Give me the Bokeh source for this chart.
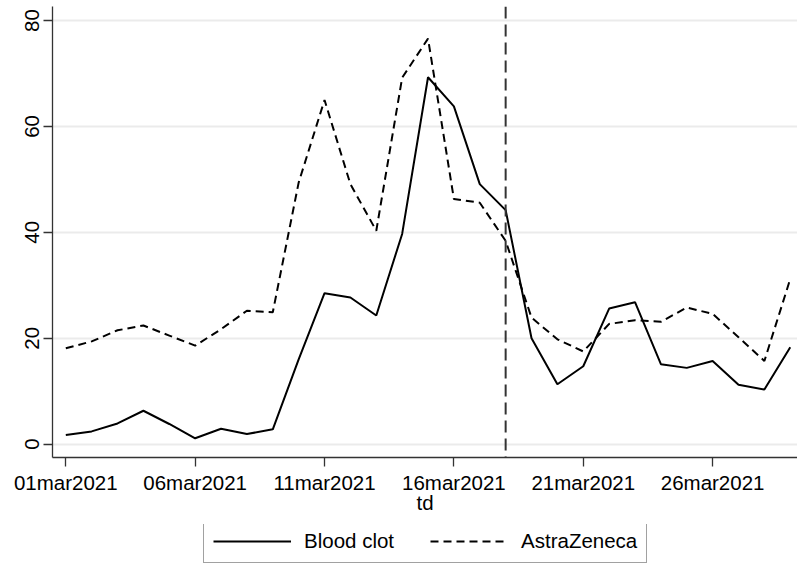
from bokeh.plotting import figure
from bokeh.layouts import column
from bokeh.models import Range1d, Span, Legend, LegendItem, ColumnDataSource
from bokeh.embed import file_html
from bokeh.resources import INLINE

# ---- data ----
days = list(range(1, 30))  # day of March 2021
tick_days = [1, 6, 11, 16, 21, 26]
tick_labels = ["01mar2021", "06mar2021", "11mar2021", "16mar2021", "21mar2021", "26mar2021"]
y_ticks = [0, 20, 40, 60, 80]
blood_clot = [1.7, 2.4, 3.9, 6.3, 3.8, 1.1, 2.9, 1.9, 2.8, 16.0, 28.5, 27.7, 24.3, 39.7,
              69.3, 63.8, 49.1, 44.2, 20.0, 11.3, 14.7, 25.6, 26.8, 15.1, 14.4, 15.7,
              11.2, 10.3, 18.3]
astrazeneca = [18.1, 19.4, 21.5, 22.4, 20.5, 18.6, 21.7, 25.2, 24.9, 49.4, 65.0, 49.1,
               40.3, 69.2, 76.6, 46.3, 45.6, 38.4, 23.9, 19.8, 17.5, 22.7, 23.4, 23.1,
               25.8, 24.6, 20.2, 15.7, 31.2]
series_names = ["Blood clot", "AstraZeneca"]
event_day = 18

FONT = "Liberation Sans"
FS = "20.5px"
DASH = "8 5"

src = ColumnDataSource(dict(x=days, blood=blood_clot, astra=astrazeneca))

# ---------------- main chart ----------------
p = figure(width=797, height=524, output_backend="svg", toolbar_location=None,
           x_range=Range1d(0.486, 29.28), y_range=Range1d(-2.53, 82.66),
           min_border_left=52, min_border_right=0, min_border_top=6,
           min_border_bottom=67)
p.outline_line_color = None
p.background_fill_color = "white"
p.border_fill_color = "white"

p.xgrid.visible = False
p.ygrid.grid_line_color = "#ebebeb"
p.ygrid.grid_line_width = 2
p.ygrid.ticker = y_ticks

p.line("x", "blood", source=src, line_color="black", line_width=2)
p.line("x", "astra", source=src, line_color="black", line_width=2, line_dash=DASH)

p.add_layout(Span(location=event_day, dimension="height", line_color="#333333",
                  line_width=2, line_dash="12 6"))

for ax in (p.xaxis[0], p.yaxis[0]):
    ax.axis_line_color = "#333333"
    ax.axis_line_width = 1.3
    ax.major_tick_line_color = "#333333"
    ax.major_tick_line_width = 1.3
    ax.major_tick_out = 9
    ax.major_tick_in = 0
    ax.minor_tick_line_color = None
    ax.major_label_text_font = FONT
    ax.major_label_text_font_size = FS
    ax.major_label_text_color = "black"
    ax.major_label_standoff = 4

p.xaxis.ticker = tick_days
p.xaxis.major_label_overrides = {d: l for d, l in zip(tick_days, tick_labels)}
p.xaxis.axis_label = "td"
p.xaxis.axis_label_text_font = FONT
p.xaxis.axis_label_text_font_size = FS
p.xaxis.axis_label_text_font_style = "normal"
p.xaxis.axis_label_text_color = "black"
p.xaxis.axis_label_standoff = -6

p.yaxis.ticker = y_ticks
p.yaxis.major_label_orientation = "vertical"

# ---------------- legend strip below ----------------
q = figure(width=797, height=39, output_backend="svg", toolbar_location=None,
           x_range=Range1d(-3, -2), y_range=Range1d(-3, -2),
           x_axis_location=None, y_axis_location=None,
           min_border_left=0, min_border_right=0, min_border_top=0,
           min_border_bottom=0)
q.outline_line_color = None
q.grid.visible = False
q.border_fill_color = "white"
q.background_fill_color = "white"
l1 = q.line("x", "blood", source=src, line_color="black", line_width=2)
l2 = q.line("x", "astra", source=src, line_color="black", line_width=2, line_dash=DASH)

legend = Legend(items=[LegendItem(label=series_names[0], renderers=[l1]),
                       LegendItem(label=series_names[1], renderers=[l2])],
                orientation="horizontal", location=(151, 0),
                border_line_color="#444444", border_line_width=1.3,
                label_text_font=FONT, label_text_font_size=FS,
                label_text_color="black", label_height=21,
                glyph_width=78, glyph_height=20, label_standoff=13,
                spacing=36, padding=9, margin=0)
q.add_layout(legend, "center")

layout = column(p, q, spacing=0)
open("out.html", "w").write(file_html(layout, INLINE))
